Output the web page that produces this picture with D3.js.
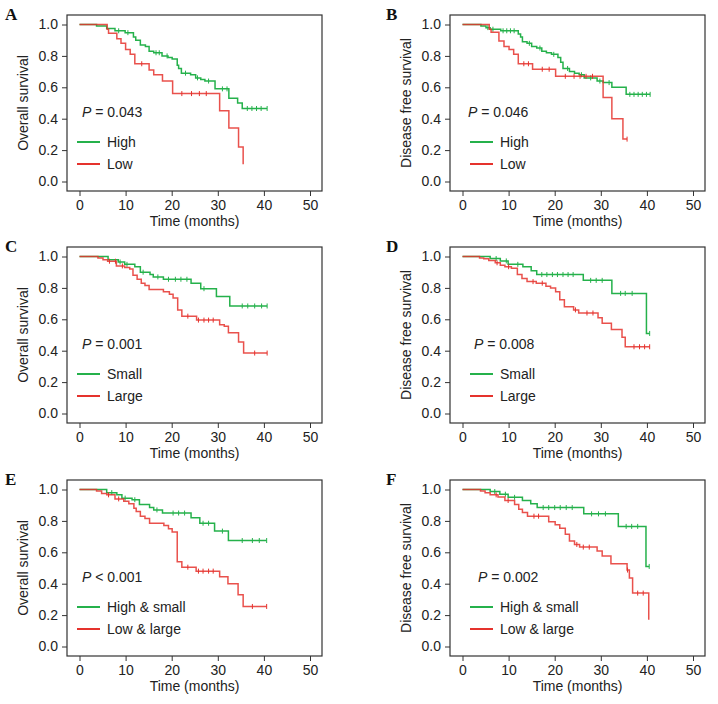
<!DOCTYPE html>
<html>
<head>
<meta charset="utf-8">
<script src="https://cdn.jsdelivr.net/npm/d3@7"></script>
<style>
  body { margin: 0; background: #fff; }
  svg text { font-family: "Liberation Sans", Arial, sans-serif; fill: #222; }
</style>
</head>
<body>
<svg id="chart" width="718" height="704"></svg>
<script>
// tick labels
var timeTicks = [0, 10, 20, 30, 40, 50];
var survTicks = [0, 0.2, 0.4, 0.6, 0.8, 1.0];

// A - overall survival, High / Low
var aHighSteps = [[3.7,0.99],[5.9,0.975],[7.7,0.96],[9.9,0.948],[11.7,0.92],[12.2,0.90],[13.2,0.87],[14.3,0.86],[15.1,0.83],[16.1,0.82],[17.9,0.80],[19.2,0.79],[20.1,0.78],[21.2,0.74],[21.5,0.72],[22.1,0.69],[24.1,0.68],[25.2,0.66],[26.3,0.65],[27.2,0.64],[29.4,0.59],[32.4,0.53],[34.3,0.50],[35.3,0.465]];
var aHighCens = [8.5,10.5,16.6,17.3,19.0,23.0,25.6,28.0,31.0,32.0,36.4,37.4,38.4,39.4,40.7];
var aLowSteps = [[6.0,0.97],[6.3,0.945],[8.1,0.91],[9.0,0.88],[10.0,0.84],[11.0,0.81],[12.0,0.75],[15.1,0.71],[16.1,0.68],[18.0,0.64],[20.2,0.56],[30.4,0.45],[32.4,0.34],[34.5,0.22],[35.5,0.11]];
var aLowCens = [13.5,22.2,24.3,26.0,27.5];

// B - disease free survival, High / Low
var bHighSteps = [[4.0,0.99],[5.1,0.98],[6.0,0.97],[8.3,0.96],[12.1,0.94],[12.6,0.92],[13.0,0.89],[14.0,0.88],[15.0,0.86],[16.1,0.85],[17.2,0.83],[18.2,0.82],[19.3,0.81],[20.7,0.79],[21.3,0.76],[21.8,0.72],[23.2,0.70],[24.3,0.69],[25.3,0.68],[26.4,0.66],[29.2,0.64],[30.5,0.63],[32.4,0.60],[35.5,0.555]];
var bHighCens = [5.5,6.6,8.8,9.6,10.4,11.2,14.5,16.8,19.8,22.8,25.8,27.8,29.8,31.8,36.3,37.2,38.1,39.0,39.9,40.7];
var bLowSteps = [[5.8,0.97],[6.2,0.95],[7.9,0.895],[9.0,0.86],[10.1,0.84],[11.1,0.81],[12.1,0.75],[15.2,0.715],[20.2,0.67],[30.5,0.535],[32.4,0.40],[34.8,0.27]];
var bLowCens = [13.3,14.3,17.3,18.8,22.3,24.2,25.5,26.8,28.2,35.7];

// C - overall survival, Small / Large
var cSmallSteps = [[6.2,0.98],[8.4,0.965],[9.8,0.95],[12.0,0.935],[13.2,0.90],[15.3,0.885],[16.0,0.87],[18.2,0.855],[24.2,0.83],[26.3,0.795],[29.7,0.745],[32.6,0.685]];
var cSmallCens = [8.8,10.3,13.8,17.0,19.3,20.8,22.0,23.3,27.0,35.3,36.5,38.0,39.5,40.7];
var cLargeSteps = [[4.0,0.99],[5.1,0.98],[6.1,0.97],[8.0,0.94],[9.8,0.93],[10.9,0.92],[11.6,0.88],[12.5,0.855],[13.4,0.83],[14.2,0.815],[15.1,0.79],[18.2,0.775],[19.5,0.76],[20.3,0.735],[21.3,0.66],[22.2,0.62],[25.4,0.595],[30.4,0.565],[31.4,0.555],[32.3,0.515],[34.5,0.455],[35.6,0.385]];
var cLargeCens = [6.5,7.8,9.3,23.5,25.8,27.0,28.0,29.0,38.0,40.7];

// D - disease free survival, Small / Large
var dSmallSteps = [[6.0,0.987],[8.2,0.972],[9.9,0.95],[13.1,0.935],[14.9,0.91],[16.1,0.885],[26.2,0.848],[32.4,0.765],[39.9,0.51]];
var dSmallCens = [7.3,9.5,12.0,17.2,18.3,19.5,20.6,21.8,22.9,24.0,27.8,29.0,30.3,34.3,35.3,36.8,40.6];
var dLargeSteps = [[3.7,0.99],[4.6,0.985],[5.7,0.975],[7.1,0.96],[8.2,0.945],[9.2,0.935],[10.6,0.925],[11.9,0.885],[12.9,0.86],[14.0,0.84],[16.0,0.83],[18.1,0.81],[19.1,0.80],[20.2,0.775],[21.1,0.725],[22.1,0.68],[24.1,0.66],[25.2,0.64],[29.4,0.61],[30.3,0.575],[32.3,0.535],[34.6,0.485],[35.3,0.425]];
var dLargeCens = [7.5,10.0,15.3,17.3,24.5,27.0,28.3,37.2,38.4,39.5,40.6];

// E - overall survival, High & small / Low & large
var eHsSteps = [[5.9,0.98],[8.1,0.966],[9.2,0.945],[11.4,0.935],[13.0,0.905],[15.2,0.885],[16.1,0.87],[18.0,0.85],[24.2,0.82],[26.1,0.785],[29.3,0.735],[32.3,0.675]];
var eHsCens = [7.0,9.9,12.0,16.8,20.3,21.5,22.8,26.8,28.0,31.0,35.3,37.5,39.0,40.6];
var eLlSteps = [[3.7,0.99],[4.8,0.975],[5.9,0.966],[7.7,0.94],[9.6,0.925],[10.7,0.91],[11.8,0.88],[12.3,0.86],[13.2,0.83],[14.2,0.815],[15.2,0.785],[18.3,0.77],[19.3,0.75],[20.1,0.73],[21.2,0.54],[22.2,0.505],[25.3,0.48],[30.4,0.445],[32.2,0.40],[34.4,0.33],[35.5,0.255]];
var eLlCens = [6.3,8.5,23.5,25.8,26.8,28.0,29.0,37.5,40.6];

// F - disease free survival, High & small / Low & large
var fHsSteps = [[6.0,0.987],[8.1,0.97],[9.9,0.95],[13.0,0.93],[14.8,0.91],[16.2,0.885],[26.3,0.845],[33.8,0.765],[39.8,0.51]];
var fHsCens = [7.0,9.3,11.3,17.5,18.7,20.0,21.2,22.5,23.8,28.0,29.5,31.0,35.5,36.7,38.0,40.5];
var fLlSteps = [[3.9,0.99],[4.9,0.98],[6.0,0.966],[7.7,0.953],[9.2,0.93],[11.3,0.905],[12.2,0.875],[13.0,0.853],[14.1,0.83],[18.7,0.795],[20.1,0.775],[21.1,0.753],[22.3,0.715],[23.2,0.672],[24.3,0.65],[25.4,0.633],[29.2,0.608],[30.3,0.576],[32.2,0.527],[35.7,0.487],[36.2,0.437],[36.9,0.34],[40.4,0.17]];
var fLlCens = [7.3,9.9,15.5,16.5,24.8,26.2,27.5,35.8,38.0,39.2];

var GREEN = "#25b14b", RED = "#e5322d";

var panels = [
  { letter: "A", col: 0, row: 0, ylab: "Overall survival", pSign: "=", pVal: "0.043",
    groups: [["High", aHighSteps, aHighCens, GREEN], ["Low", aLowSteps, aLowCens, RED]] },
  { letter: "B", col: 1, row: 0, ylab: "Disease free survival", pSign: "=", pVal: "0.046",
    groups: [["High", bHighSteps, bHighCens, GREEN], ["Low", bLowSteps, bLowCens, RED]] },
  { letter: "C", col: 0, row: 1, ylab: "Overall survival", pSign: "=", pVal: "0.001",
    groups: [["Small", cSmallSteps, cSmallCens, GREEN], ["Large", cLargeSteps, cLargeCens, RED]] },
  { letter: "D", col: 1, row: 1, ylab: "Disease free survival", pSign: "=", pVal: "0.008",
    groups: [["Small", dSmallSteps, dSmallCens, GREEN], ["Large", dLargeSteps, dLargeCens, RED]] },
  { letter: "E", col: 0, row: 2, ylab: "Overall survival", pSign: "<", pVal: "0.001",
    groups: [["High & small", eHsSteps, eHsCens, GREEN], ["Low & large", eLlSteps, eLlCens, RED]] },
  { letter: "F", col: 1, row: 2, ylab: "Disease free survival", pSign: "=", pVal: "0.002",
    groups: [["High & small", fHsSteps, fHsCens, GREEN], ["Low & large", fLlSteps, fLlCens, RED]] }
];

// layout
var boxLeft = [67, 450], boxW = 255, boxH = 176;
var boxTop = [15, 247, 480];
var pOffset = { A: 15, B: 18, C: 15, D: 24, E: 15, F: 28 };

var svg = d3.select("#chart");

function survAt(steps, t) {
  var s = 1;
  steps.forEach(function (d) { if (d[0] <= t) s = d[1]; });
  return s;
}

panels.forEach(function (p) {
  var left = boxLeft[p.col], top = boxTop[p.row];
  var g = svg.append("g").attr("transform", "translate(" + left + "," + top + ")");

  var x = d3.scaleLinear().domain([0, 50]).range([12.5, boxW - 12]);
  var y = d3.scaleLinear().domain([0, 1]).range([boxH - 9.5, 9.5]);

  // box
  g.append("rect")
    .attr("x", 0).attr("y", 0).attr("width", boxW).attr("height", boxH)
    .attr("fill", "none").attr("stroke", "#333").attr("stroke-width", 1.2);

  // x axis
  var xa = g.append("g")
    .attr("transform", "translate(0," + boxH + ")")
    .call(d3.axisBottom(x).tickValues(timeTicks).tickSize(5).tickPadding(4).tickFormat(d3.format("d")));
  xa.select(".domain").remove();

  // y axis
  var ya = g.append("g")
    .call(d3.axisLeft(y).tickValues(survTicks).tickSize(5).tickPadding(4).tickFormat(d3.format(".1f")));
  ya.select(".domain").remove();

  g.selectAll(".tick line").attr("stroke", "#333");
  g.selectAll(".tick text").attr("fill", "#222").style("font-size", "14px")
    .style("font-family", "'Liberation Sans', Arial, sans-serif");

  // axis titles
  g.append("text")
    .attr("x", boxW / 2).attr("y", boxH + 35)
    .attr("text-anchor", "middle").style("font-size", "14px")
    .text("Time (months)");
  g.append("text")
    .attr("transform", "translate(-39," + (boxH / 2) + ") rotate(-90)")
    .attr("text-anchor", "middle").style("font-size", "14px")
    .text(p.ylab);

  // panel letter
  svg.append("text")
    .attr("x", left - (p.col === 0 ? 62 : 64)).attr("y", top + 5)
    .style("font-family", "'Liberation Serif', 'Times New Roman', serif")
    .style("font-weight", "bold").style("font-size", "17px")
    .style("fill", "#111")
    .text(p.letter);

  // p-value
  var pt = g.append("text")
    .attr("x", pOffset[p.letter]).attr("y", 102)
    .style("font-size", "14px");
  pt.append("tspan").style("font-style", "italic").text("P");
  pt.append("tspan").text(" " + p.pSign + " " + p.pVal);

  // legend
  var lx0 = p.col === 0 ? 10 : 20;
  p.groups.forEach(function (grp, i) {
    var ly = 127 + i * 22;
    g.append("line")
      .attr("x1", lx0).attr("x2", lx0 + 23).attr("y1", ly).attr("y2", ly)
      .attr("stroke", grp[3]).attr("stroke-width", 2);
    g.append("text")
      .attr("x", lx0 + 30).attr("y", ly + 5)
      .style("font-size", "14px")
      .text(grp[0]);
  });

  // curves
  var line = d3.line()
    .x(function (d) { return x(d[0]); })
    .y(function (d) { return y(d[1]); })
    .curve(d3.curveStepAfter);

  p.groups.forEach(function (grp) {
    var steps = grp[1], cens = grp[2], col = grp[3];
    var lastT = steps[steps.length - 1][0];
    var endT = Math.max(lastT, d3.max(cens));
    var pts = [[0, 1]].concat(steps);
    pts.push([endT, steps[steps.length - 1][1]]);

    g.append("path")
      .attr("d", line(pts))
      .attr("fill", "none")
      .attr("stroke", col)
      .attr("stroke-width", 1.5)
      .attr("stroke-opacity", col === RED ? 0.85 : 1);

    g.selectAll(null)
      .data(cens)
      .enter().append("line")
      .attr("x1", function (d) { return x(d); })
      .attr("x2", function (d) { return x(d); })
      .attr("y1", function (d) { return y(survAt(steps, d)) - 2.5; })
      .attr("y2", function (d) { return y(survAt(steps, d)) + 2.5; })
      .attr("stroke", col)
      .attr("stroke-width", 1);
  });
});
</script>
</body>
</html>
